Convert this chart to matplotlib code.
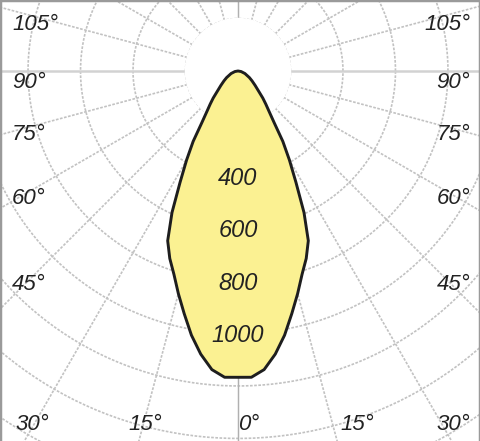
import matplotlib
matplotlib.use("Agg")
import matplotlib.pyplot as plt
import numpy as np

# luminous intensity (cd) vs angle from nadir (symmetric)
gamma = [0, 2.5, 5, 7.5, 10, 12.5, 15, 17.5, 20, 22.5, 25, 27.5, 30,
         32.5, 35, 37.5, 40, 42.5, 45, 50, 55, 60, 70, 80, 90]
intensity = [1167, 1168, 1142, 1088, 1022, 947, 878, 812, 760, 700, 595, 478,
             392, 318, 240, 195, 165, 140, 115, 85, 65, 50, 28, 12, 0]

ring_labels = [400, 600, 800, 1000]
angle_labels_side = [105, 90, 75, 60, 45]
angle_labels_bottom = [30, 15, 0, 15, 30]

W, H = 480, 441
cx, cy = 238, 71          # pole position in pixels
cd_per_px = 3.81

fig = plt.figure(figsize=(W / 100, H / 100), dpi=100)
ax = fig.add_axes([0, 0, 1, 1])
ax.set_xlim(-cx * cd_per_px, (W - cx) * cd_per_px)
ax.set_ylim(-(H - cy) * cd_per_px, cy * cd_per_px)
ax.set_aspect("auto")
ax.set_xticks([])
ax.set_yticks([])
for s in ["left", "top", "right"]:
    ax.spines[s].set_color("#9a9a9a")
    ax.spines[s].set_linewidth(2.5)
ax.spines["bottom"].set_visible(False)

grid_c = "#c2c2c2"
dash = (0, (1.6, 0.9))

# concentric rings
t = np.linspace(0, 2 * np.pi, 400)
for r in range(200, 2200, 200):
    ax.plot(r * np.cos(t), r * np.sin(t), color=grid_c, lw=1.2, ls=dash, zorder=1)

# radial lines every 15 deg
for a in range(0, 181, 15):
    for sgn in (-1, 1):
        ar = np.radians(a)
        xs = sgn * np.sin(ar) * np.array([200, 2200])
        ys = -np.cos(ar) * np.array([200, 2200])
        if a == 90:
            ax.plot(xs, ys, color="#d2d2d2", lw=1.8, zorder=1)
        elif a in (0, 180):
            ax.plot(xs, ys, color="#b0b0b0", lw=0.9, zorder=1)
        else:
            ax.plot(xs, ys, color=grid_c, lw=1.2, ls=dash, zorder=1)

# white pole disk
ax.fill(200 * np.cos(t), 200 * np.sin(t), color="white", zorder=1.5)

# intensity curve, mirrored for the two half planes
g = np.radians(np.array(gamma))
I = np.array(intensity)
ang = np.concatenate([-g[::-1], g[1:]])
rr = np.concatenate([I[::-1], I[1:]])
x = rr * np.sin(ang)
y = -rr * np.cos(ang)
ax.fill(x, y, facecolor="#fbf192", edgecolor="#1e1e1e", lw=2.1,
        joinstyle="round", zorder=3)

font = dict(family="Liberation Sans", style="italic", color="#222222")
for v in ring_labels:
    ax.text(0, -v - 8, str(v), ha="center", va="center", fontsize=17,
            zorder=4, **font)

# angle labels around the frame (pixel layout)
side_y = [25, 83, 134, 199, 284]
for lab, py in zip(angle_labels_side, side_y):
    ax.text(12 / W, 1 - py / H, f"{lab}°", transform=ax.transAxes,
            ha="left", va="center", fontsize=16, **font)
    ax.text(470 / W, 1 - py / H, f"{lab}°", transform=ax.transAxes,
            ha="right", va="center", fontsize=16, **font)

bottom_x = [15, 128, 238, 340, 470]
bottom_ha = ["left", "left", "left", "left", "right"]
for lab, px, ha in zip(angle_labels_bottom, bottom_x, bottom_ha):
    ax.text(px / W, 1 - 424 / H, f"{lab}°", transform=ax.transAxes,
            ha=ha, va="center", fontsize=16, **font)

fig.savefig("out.png", dpi=100)
